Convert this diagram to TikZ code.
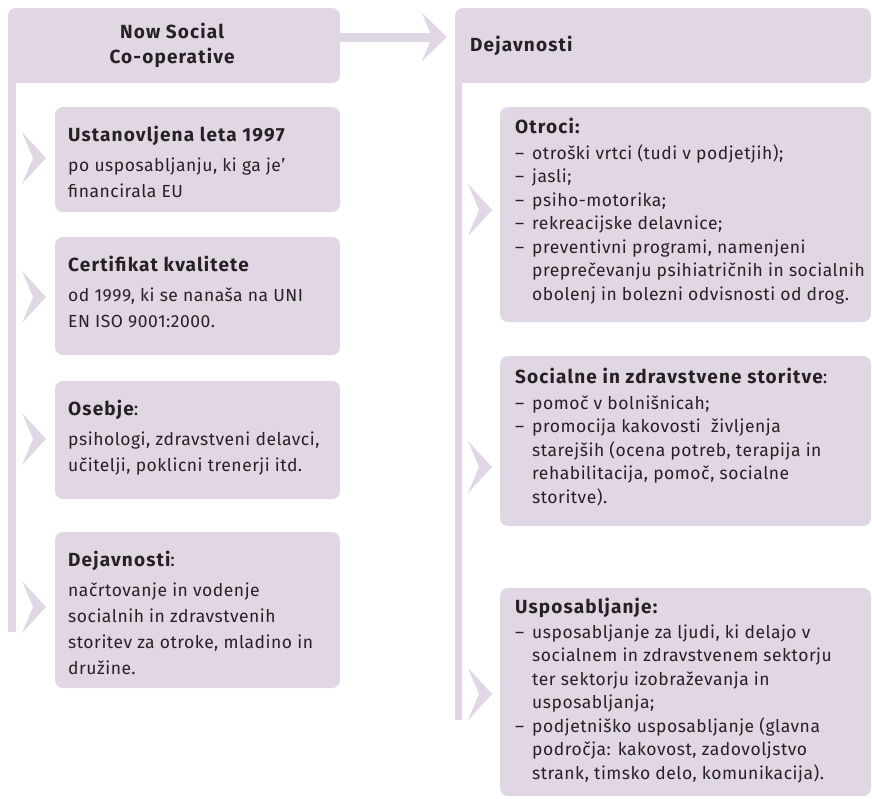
\documentclass[tikz,border=0pt]{standalone}
\usepackage{fontspec}
\setmainfont{Fira Sans}[LetterSpace=3]
\newfontfamily\ttlfont{Fira Sans}[LetterSpace=6]
\usetikzlibrary{calc}
\definecolor{lav}{RGB}{224,214,228}
\definecolor{ink}{RGB}{38,34,36}
\newcommand{\dashitem}{\makebox[17pt][l]{–}}
\newcommand{\contind}{\hspace*{17pt}}
\tikzset{
  chev/.pic={\fill[lav] (0,0) -- (-24,-26) -- (-13,0) -- (-24,26) -- cycle;},
  hchev/.pic={\fill[lav] (0,0) -- (-25,-24) -- (-15,0) -- (-25,24) -- cycle;},
  box/.style={fill=lav, rounded corners=8pt, inner sep=0pt, outer sep=0pt, anchor=north west},
  ttl/.style={anchor=base west, inner sep=0pt, text=ink, font=\ttlfont\bfseries\fontsize{19}{25}\selectfont},
  lbody/.style={anchor=base west, inner sep=0pt, text=ink, align=left, font=\fontsize{17.5}{26}\selectfont},
  rbody/.style={anchor=base west, inner sep=0pt, text=ink, align=left, font=\fontsize{17.5}{23.5}\selectfont}
}
\begin{document}
\begin{tikzpicture}[x=1pt,y=-1pt]
\useasboundingbox (0,0) rectangle (872,798);
% headers
\node[box, minimum width=332pt, minimum height=75pt] (lh) at (8,8) {};
\fill[lav] ([yshift=8pt]lh.south west) rectangle (16,632);
\node[font=\ttlfont\bfseries\fontsize{19}{25}\selectfont, align=center, text=ink, inner sep=0pt] (lht) at ([xshift=-2pt]lh.center) {Now Social\\Co-operative};
\node[box, minimum width=416pt, minimum height=75pt] (rh) at (455,8) {};
\fill[lav] ([yshift=8pt]rh.south west) rectangle (462,720);
\node[ttl, anchor=west] (rht) at ([xshift=15pt]rh.west) {Dejavnosti};
% header connector
\coordinate (ay) at (0,37);
\coordinate (atip) at (447,37);
\draw[lav, line width=9pt] (lh.east |- ay) -- ([xshift=-14pt]atip);
\pic at (atip) {hchev};
% left boxes
\node[box, minimum width=285pt, minimum height=105pt] (b1) at (55,107) {};
\node[box, minimum width=285pt, minimum height=118pt] (b2) at (55,237) {};
\node[box, minimum width=285pt, minimum height=118pt] (b3) at (55,381) {};
\node[box, minimum width=285pt, minimum height=156pt] (b4) at (55,532) {};
\pic at (46,158) {chev};
\pic at (46,297) {chev};
\pic at (46,439) {chev};
\pic at (46,607) {chev};
\node[ttl] (t1) at (68,141) {Ustanovljena leta 1997};
\node[lbody] (x1) at (68,197) {po usposabljanju, ki ga je’\\financirala EU};
\node[ttl] (t2) at (68,271) {Certifikat kvalitete};
\node[lbody] (x2) at (68,327) {od 1999, ki se nanaša na UNI\\EN ISO 9001:2000.};
\node[ttl] (t3) at (68,415) {Osebje{\mdseries :}};
\node[lbody] (x3) at (68,471) {psihologi, zdravstveni delavci,\\učitelji, poklicni trenerji itd.};
\node[ttl] (t4) at (68,566) {Dejavnosti{\mdseries :}};
\node[lbody] (x4) at (68,674) {načrtovanje in vodenje\\socialnih in zdravstvenih\\storitev za otroke, mladino in\\družine.};
% right boxes
\node[box, minimum width=371pt, minimum height=215pt] (r1) at (500,107) {};
\node[box, minimum width=371pt, minimum height=170pt] (r2) at (500,356) {};
\node[box, minimum width=371pt, minimum height=208pt] (r3) at (500,588) {};
\pic at (492,210) {chev};
\pic at (492,467) {chev};
\pic at (492,694) {chev};
\node[ttl] (t5) at (515,133) {Otroci:};
\node[rbody] (x5) at (515,300) {\dashitem otroški vrtci (tudi v podjetjih);\\\dashitem jasli;\\\dashitem psiho-motorika;\\\dashitem rekreacijske delavnice;\\\dashitem preventivni programi, namenjeni\\\contind preprečevanju psihiatričnih in socialnih\\\contind obolenj in bolezni odvisnosti od drog.};
\node[ttl] (t6) at (515,383) {Socialne in zdravstvene storitve{\mdseries :}};
\node[rbody] (x6) at (515,503) {\dashitem pomoč v bolnišnicah;\\\dashitem promocija kakovosti\ \ življenja\\\contind starejših (ocena potreb, terapija in\\\contind rehabilitacija, pomoč, socialne\\\contind storitve).};
\node[ttl] (t7) at (515,613) {Usposabljanje:};
\node[rbody] (x7) at (515,779) {\dashitem usposabljanje za ljudi, ki delajo v\\\contind socialnem in zdravstvenem sektorju\\\contind ter sektorju izobraževanja in\\\contind usposabljanja;\\\dashitem podjetniško usposabljanje (glavna\\\contind področja: kakovost, zadovoljstvo\\\contind strank, timsko delo, komunikacija).};
\end{tikzpicture}
\end{document}
